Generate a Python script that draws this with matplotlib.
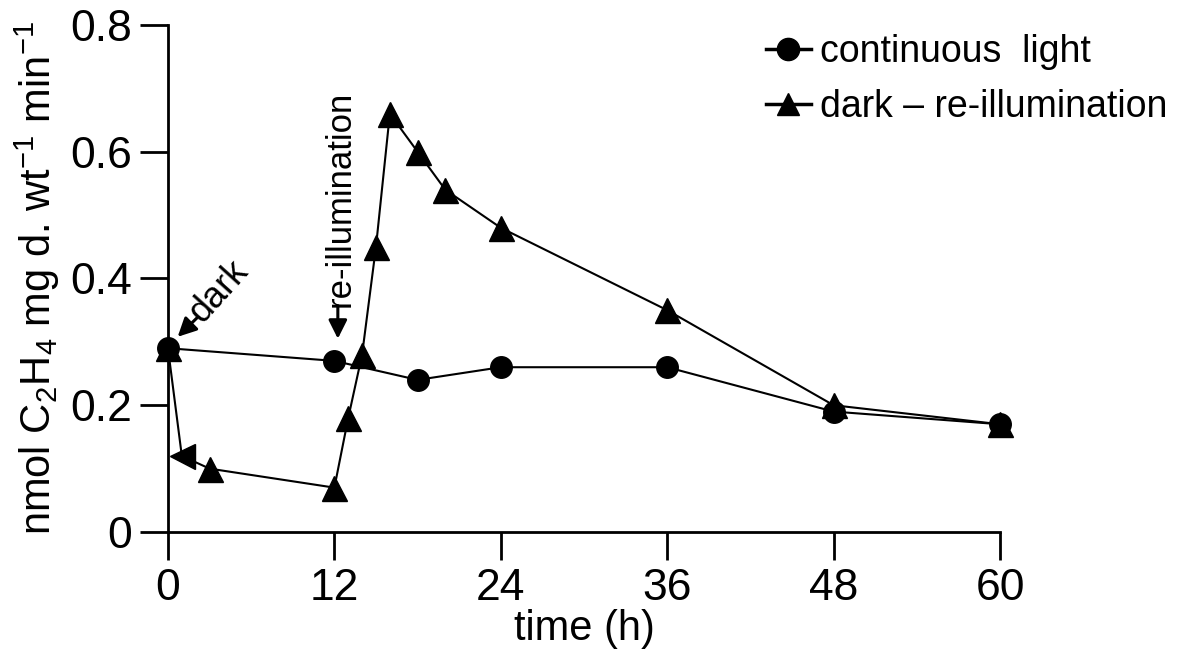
import numpy as np
import matplotlib.pyplot as plt
from matplotlib.lines import Line2D

plt.rcParams['font.family'] = ['Liberation Sans', 'DejaVu Sans']
plt.rcParams['mathtext.default'] = 'regular'

# datos
t_luz = [0, 12, 18, 24, 36, 48, 60]
v_luz = [0.29, 0.27, 0.24, 0.26, 0.26, 0.19, 0.17]

t_osc = [0, 1, 3, 12, 13, 14, 15, 16, 18, 20, 24, 36, 48, 60]
v_osc = [0.29, 0.12, 0.10, 0.07, 0.18, 0.28, 0.45, 0.66, 0.60, 0.54, 0.48, 0.35, 0.20, 0.17]

x_ticks = [0, 12, 24, 36, 48, 60]
y_ticks = [0, 0.2, 0.4, 0.6, 0.8]
y_tick_labels = ['0', '0.2', '0.4', '0.6', '0.8']

fig = plt.figure(figsize=(12.04, 6.58), dpi=100)
ax = fig.add_axes([0.1395, 0.1915, 0.6911, 0.7705])

# luz continua
ax.plot(t_luz, v_luz, color='black', lw=1.5, marker='o', ms=15.5,
        clip_on=False, zorder=3)

# oscuridad - reiluminacion (el punto a 1 h aparece como triangulo girado)
idx = [i for i in range(len(t_osc)) if i != 1]
ax.plot(t_osc, v_osc, color='black', lw=1.5, marker='^', ms=18,
        markevery=idx, clip_on=False, zorder=3)
ax.plot(t_osc[1], v_osc[1], color='black', marker='<', ms=18,
        ls='none', clip_on=False, zorder=3)

ax.set_xlim(0, 60)
ax.set_ylim(0, 0.8)
ax.set_xticks(x_ticks)
ax.set_yticks(y_ticks)
ax.set_yticklabels(y_tick_labels)
ax.tick_params(direction='out', length=20, width=2, labelsize=32, pad=6)
for s in ['top', 'right']:
    ax.spines[s].set_visible(False)
for s in ['left', 'bottom']:
    ax.spines[s].set_linewidth(2)

ax.set_xlabel('time (h)', fontsize=30, labelpad=0)
ax.set_ylabel('nmol C$_2$H$_4$ mg d. wt$^{-1}$ min$^{-1}$', fontsize=30,
              labelpad=6)

# flechas y textos
flecha = dict(arrowstyle='-|>', color='black', lw=2.2, mutation_scale=28,
              shrinkA=0, shrinkB=0)
ax.annotate('', xy=(0.7, 0.308), xytext=(2.1, 0.338), arrowprops=flecha,
            annotation_clip=False)
ax.text(2.0, 0.338, 'dark', fontsize=26, rotation=48, rotation_mode='anchor',
        ha='left', va='center')
ax.annotate('', xy=(12.25, 0.305), xytext=(12.25, 0.357), arrowprops=flecha)
ax.text(12.45, 0.355, 're-illumination', fontsize=25, rotation=90,
        rotation_mode='anchor', ha='left', va='center')

handles = [
    Line2D([], [], color='black', lw=2.5, marker='o', ms=16),
    Line2D([], [], color='black', lw=2.5, marker='^', ms=16),
]
fig.legend(handles, ['continuous  light', 'dark \u2013 re-illumination'],
           loc='upper left', bbox_to_anchor=(0.636, 0.948), frameon=False,
           borderpad=0, borderaxespad=0,
           fontsize=27, handlelength=1.2, handletextpad=0.25, labelspacing=0.5)

fig.savefig('out.png', dpi=100)
